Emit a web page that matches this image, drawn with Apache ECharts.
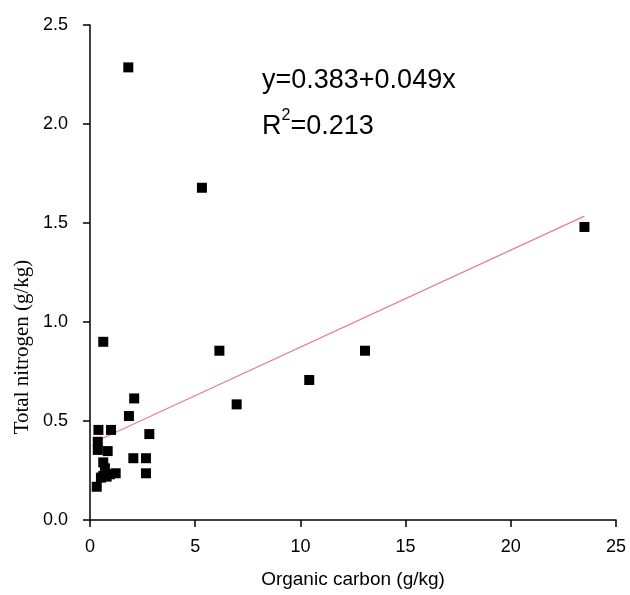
<!DOCTYPE html>
<html>
<head>
<meta charset="utf-8">
<script src="https://cdn.jsdelivr.net/npm/echarts@6/dist/echarts.min.js"></script>
<style>html,body{margin:0;padding:0;background:#fff}#c{width:630px;height:595px}</style>
</head>
<body>
<div id="c"></div>
<script>
var organicCarbon = [1.82, 5.32, 23.5, 6.15, 13.07, 10.42, 6.97, 0.63, 2.1, 1.85, 0.4, 1.0, 2.82, 0.37, 0.37, 0.84, 2.06, 2.66, 0.63, 0.71, 0.63, 0.95, 1.22, 2.66, 0.32, 0.52, 0.79];
var totalNitrogen = [2.286, 1.678, 1.48, 0.855, 0.855, 0.707, 0.584, 0.90, 0.614, 0.525, 0.455, 0.455, 0.434, 0.395, 0.354, 0.348, 0.312, 0.312, 0.291, 0.261, 0.222, 0.231, 0.236, 0.236, 0.168, 0.214, 0.219];
var fitIntercept = 0.383, fitSlope = 0.049;
var fitRange = [0.3, 23.5];
var xTicks = [0, 5, 10, 15, 20, 25];
var yTicks = [0.0, 0.5, 1.0, 1.5, 2.0, 2.5];

var points = organicCarbon.map(function (x, i) { return [x, totalNitrogen[i]]; });
var fitLine = fitRange.map(function (x) { return [x, fitIntercept + fitSlope * x]; });

var chart = echarts.init(document.getElementById('c'), null, {renderer: 'canvas'});
var sans = '"Liberation Sans", Arial, sans-serif';
var axisCommon = {
  axisLine: {show: true, onZero: false, lineStyle: {color: '#000', width: 1.5}},
  axisTick: {show: true, inside: false, length: 7, lineStyle: {color: '#000', width: 1.5}},
  splitLine: {show: false},
  axisLabel: {color: '#000', fontFamily: 'Liberation Sans, Arial, sans-serif', fontSize: 18}
};
chart.setOption({
  animation: false,
  backgroundColor: '#fff',
  grid: {left: 90, right: 14, top: 25, bottom: 75, containLabel: false},
  xAxis: Object.assign({}, axisCommon, {
    type: 'value', min: xTicks[0], max: xTicks[xTicks.length - 1], interval: 5,
    name: 'Organic carbon (g/kg)', nameLocation: 'middle', nameGap: 50,
    nameTextStyle: {color: '#000', fontFamily: 'Liberation Sans, Arial, sans-serif', fontSize: 19},
    axisLabel: Object.assign({}, axisCommon.axisLabel, {margin: 18})
  }),
  yAxis: Object.assign({}, axisCommon, {
    type: 'value', min: yTicks[0], max: yTicks[yTicks.length - 1], interval: 0.5,
    axisLabel: Object.assign({}, axisCommon.axisLabel, {margin: 22, formatter: function (v) { return v.toFixed(1); }})
  }),
  series: [
    {
      type: 'line', data: fitLine, showSymbol: false, silent: true,
      lineStyle: {color: '#e37f91', width: 1.3}, z: 1
    },
    {
      type: 'scatter', data: points, symbol: 'rect', symbolSize: 10,
      itemStyle: {color: '#000', opacity: 1}, z: 2
    }
  ],
  graphic: [
    {type: 'text', x: 22, y: 347, rotation: Math.PI / 2, style: {
      text: 'Total nitrogen (g/kg)', fill: '#000', align: 'center', verticalAlign: 'middle',
      font: '21px "Liberation Serif", "Times New Roman", serif'}},
    {type: 'text', left: 262, top: 67, style: {text: 'y=0.383+0.049x', fill: '#000', font: '27px ' + sans}},
    {type: 'text', left: 262, top: 108, style: {
      text: '{b|R}{s|2}{b|=0.213}',
      rich: {
        b: {fill: '#000', font: '27px ' + sans, verticalAlign: 'bottom', lineHeight: 32},
        s: {fill: '#000', font: '16px ' + sans, verticalAlign: 'top', lineHeight: 32, padding: [0, 0, 12, 0]}
      }
    }}
  ]
});
</script>
</body>
</html>
